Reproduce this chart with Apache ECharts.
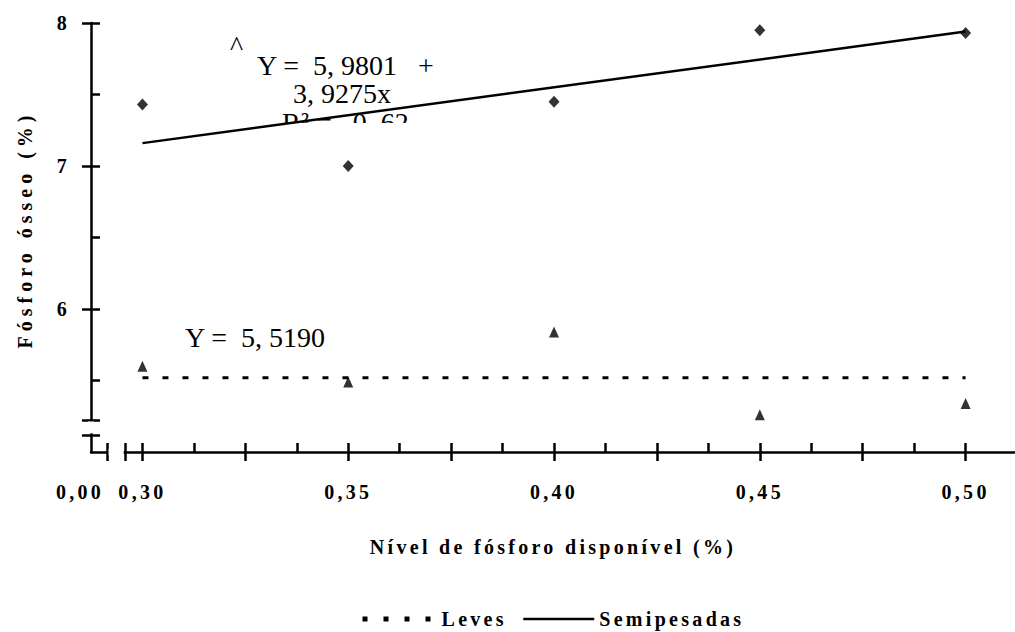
<!DOCTYPE html>
<html>
<head>
<meta charset="utf-8">
<script src="https://cdn.jsdelivr.net/npm/echarts@6/dist/echarts.min.js"></script>
<style>
html,body{margin:0;padding:0;background:#fff;}
#c{width:1015px;height:632px;}
#c text{white-space:pre;}
#c text[style*="bold"]{letter-spacing:3.3px;}
#c text[style*="700"]{letter-spacing:5px;}
</style>
</head>
<body>
<div id="c"></div>
<script>
// ---- data ----
const phosphorusLevels = [0.30, 0.35, 0.40, 0.45, 0.50];
const semipesadasObserved = [7.43, 7.00, 7.45, 7.95, 7.93];
const levesObserved = [5.60, 5.49, 5.84, 5.26, 5.34];
const fitLevels = [0.30, 0.50];
const semipesadasFit = [7.16, 7.94];   // Y = 5,9801 + 3,9275x at the ends
const levesFit = [5.519, 5.519];       // Y = 5,5190

// ---- tick positions / labels ----
const xLabelTicks = [0.30, 0.35, 0.40, 0.45, 0.50];
const xMajorTicks = [0.30, 0.325, 0.35, 0.375, 0.40, 0.425, 0.45, 0.475, 0.50];
const xMinorTicks = [0.3125, 0.3375, 0.3625, 0.3875, 0.4125, 0.4375, 0.4625, 0.4875];
const xBreakTicks = [0.2914, 0.2958];
const yLabelTicks = [6, 7, 8];
const yMajorTicks = [6, 7, 8];
const yMinorTicks = [5.5, 6.5, 7.5];
const yBreakTicks = [5.12, 5.224];

const xTitle = 'Nível de fósforo disponível (%)';
const yTitle = 'Fósforo ósseo (%)';
const xOriginLabel = '0,00';
const eqSemi1 = 'Y =  5, 9801   +';
const eqSemi2 = '3, 9275x';
const eqSemi3 = 'R² =   0, 62';
const eqLeves = 'Y =  5, 5190';

const SERIF = 'Liberation Serif';
const boldText = {fontFamily: SERIF, fontWeight: 'bold', fontSize: 20, color: '#000'};
const axisStroke = {color: '#000', width: 2.5};

const chart = echarts.init(document.getElementById('c'), null, {renderer: 'svg'});

const xMin = 0.2875, xMax = 0.512, yMin = 5, yMax = 8;

function xAxisBase(extra) {
  return Object.assign({
    type: 'value', min: xMin, max: xMax, position: 'bottom', gridIndex: 0,
    splitLine: {show: false}
  }, extra);
}
function yAxisBase(extra) {
  return Object.assign({
    type: 'value', min: yMin, max: yMax, position: 'left', gridIndex: 0,
    splitLine: {show: false}
  }, extra);
}

const option = {
  animation: false,
  backgroundColor: '#fff',
  grid: {left: 91, right: 0, top: 23, bottom: 180, containLabel: false},
  xAxis: [
    xAxisBase({
      axisLine: {show: true, lineStyle: axisStroke},
      axisTick: {show: true, inside: true, length: 9, lineStyle: axisStroke,
        customValues: xBreakTicks.concat(xMajorTicks, xMinorTicks)},
      axisLabel: {show: true, margin: 30, customValues: xLabelTicks,
        fontFamily: SERIF, fontWeight: 'bold', fontSize: 20, color: '#000',
        formatter: v => v.toFixed(2).replace('.', ',')},
      name: xTitle, nameLocation: 'middle', nameGap: 85,
      nameTextStyle: boldText
    }),
    xAxisBase({
      axisLine: {show: false},
      axisTick: {show: true, inside: false, length: 9, lineStyle: axisStroke,
        customValues: xBreakTicks.concat(xMajorTicks)},
      axisLabel: {show: false}
    })
  ],
  yAxis: [
    yAxisBase({
      axisLine: {show: true, lineStyle: axisStroke},
      axisTick: {show: true, inside: true, length: 9, lineStyle: axisStroke,
        customValues: yBreakTicks.concat(yMajorTicks, yMinorTicks)},
      axisLabel: {show: true, margin: 21, customValues: yLabelTicks,
        fontFamily: SERIF, fontWeight: 'bold', fontSize: 20, color: '#000',
        formatter: v => String(v)},
      name: yTitle, nameLocation: 'middle', nameRotate: 90, nameGap: 66,
      nameTextStyle: {fontFamily: SERIF, fontWeight: 700, fontSize: 20, color: '#000',
        align: 'center', verticalAlign: 'middle', padding: [0, 0, 0, 16]}
    }),
    yAxisBase({
      axisLine: {show: false},
      axisTick: {show: true, inside: false, length: 9, lineStyle: axisStroke,
        customValues: yBreakTicks.concat(yMajorTicks)},
      axisLabel: {show: false}
    })
  ],
  legend: [
    {
      data: ['Leves'], left: 360, top: 609, padding: 0,
      itemWidth: 74, itemHeight: 14,
      textStyle: boldText,
      lineStyle: {color: '#000', width: 5, type: [5, 16]},
      itemStyle: {color: 'rgba(0,0,0,0)', borderWidth: 0, opacity: 0},
      selectedMode: false
    },
    {
      data: ['Semipesadas'], left: 522, top: 609, padding: 0,
      itemWidth: 71, itemHeight: 14,
      textStyle: boldText,
      lineStyle: {color: '#000', width: 2.5, type: 'solid'},
      itemStyle: {color: 'rgba(0,0,0,0)', borderWidth: 0, opacity: 0},
      selectedMode: false
    }
  ],
  series: [
    {
      name: 'Leves', type: 'line', xAxisIndex: 0, yAxisIndex: 0, z: 3,
      data: fitLevels.map((x, i) => [x, levesFit[i]]),
      symbol: 'none', showSymbol: false,
      lineStyle: {color: '#000', width: 3, type: [6, 14]},
      itemStyle: {color: '#000'}
    },
    {
      name: 'Semipesadas', type: 'line', xAxisIndex: 0, yAxisIndex: 0, z: 3,
      data: fitLevels.map((x, i) => [x, semipesadasFit[i]]),
      symbol: 'none', showSymbol: false,
      lineStyle: {color: '#000', width: 2.5},
      itemStyle: {color: '#000'}
    },
    {
      name: 'Semipesadas (observado)', type: 'scatter', xAxisIndex: 0, yAxisIndex: 0, z: 4,
      data: phosphorusLevels.map((x, i) => [x, semipesadasObserved[i]]),
      symbol: 'diamond', symbolSize: [11, 12],
      itemStyle: {color: '#000'}
    },
    {
      name: 'Leves (observado)', type: 'scatter', xAxisIndex: 0, yAxisIndex: 0, z: 4,
      data: phosphorusLevels.map((x, i) => [x, levesObserved[i]]),
      symbol: 'triangle', symbolSize: [10, 11],
      itemStyle: {color: '#000'}
    }
  ]
};

chart.setOption(option);

// decorations: axis breaks, origin label, equations
const px = v => chart.convertToPixel({gridIndex: 0}, v);
const xb0 = px([xBreakTicks[0], yMin]);
const xb1 = px([xBreakTicks[1], yMin]);
const yb0 = px([xMin, yBreakTicks[0]]);
const yb1 = px([xMin, yBreakTicks[1]]);
const eqStyle = {fontFamily: SERIF, fontSize: 28, fill: '#000', align: 'left', textAlign: 'left',
  verticalAlign: 'middle', textVerticalAlign: 'middle'};

chart.setOption({
  graphic: [
    {type: 'rect', id: 'xgap', z: 20, silent: true,
      shape: {x: xb0[0] + 1.5, y: xb0[1] - 3, width: xb1[0] - xb0[0] - 3, height: 6},
      style: {fill: '#fff'}},
    {type: 'rect', id: 'ygap', z: 20, silent: true,
      shape: {x: yb1[0] - 3, y: yb1[1] + 1.5, width: 6, height: yb0[1] - yb1[1] - 3},
      style: {fill: '#fff'}},
    {type: 'text', id: 'origin', z: 20, x: xb0[0] - 27, y: xb0[1] + 40,
      style: {text: xOriginLabel, fontFamily: SERIF, fontWeight: 'bold', fontSize: 20, fill: '#000',
        align: 'center', textAlign: 'center', verticalAlign: 'middle', textVerticalAlign: 'middle'}},
    {type: 'text', id: 'hat', z: 0, x: 230, y: 45, style: Object.assign({text: '^'}, eqStyle)},
    {type: 'text', id: 'eq1', z: 0, x: 257, y: 65.5, style: Object.assign({text: eqSemi1}, eqStyle)},
    {type: 'text', id: 'eq2', z: 0, x: 293, y: 93.5, style: Object.assign({text: eqSemi2}, eqStyle)},
    {type: 'text', id: 'eq3', z: 0, x: 282, y: 122.5, style: Object.assign({text: eqSemi3}, eqStyle)},
    {type: 'rect', id: 'eq3clip', z: 1, silent: true,
      shape: {x: 270, y: 123, width: 150, height: 22}, style: {fill: '#fff'}},
    {type: 'text', id: 'eqL', z: 0, x: 185, y: 337, style: Object.assign({text: eqLeves}, eqStyle)}
  ]
});
</script>
</body>
</html>
